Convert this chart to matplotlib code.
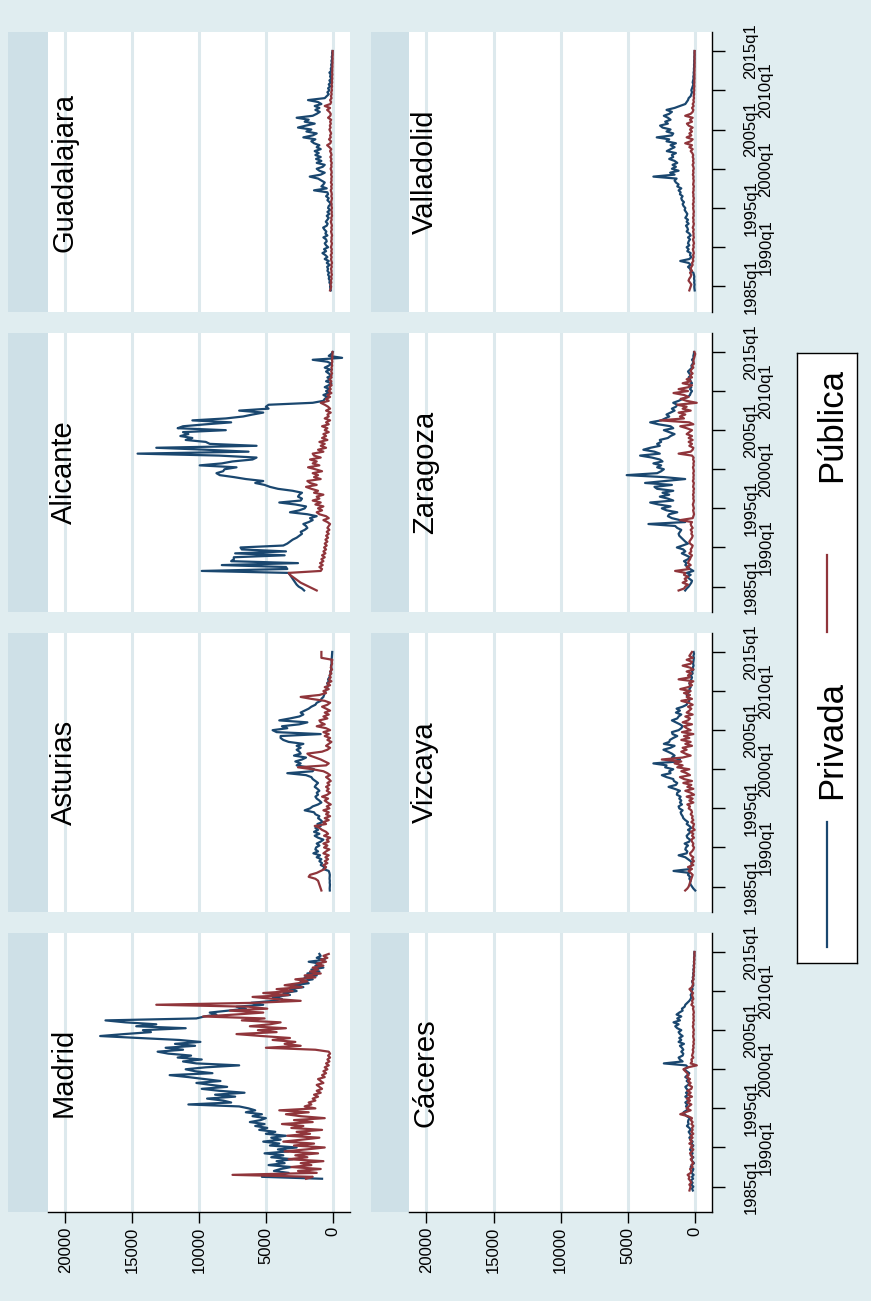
import numpy as np
import matplotlib
matplotlib.use("Agg")
import matplotlib.pyplot as plt
from matplotlib.patches import Rectangle

plt.rcParams['font.family'] = ['Liberation Sans', 'DejaVu Sans']

nan = float('nan')

# Stata quarterly dates (1960q1 = 0): 1984q3 .. 2015q1
quarters = np.arange(98, 221)
tick_major = [100, 140, 180, 220]
tick_major_lbl = ['1985q1', '1995q1', '2005q1', '2015q1']
tick_minor = [120, 160, 200]
tick_minor_lbl = ['1990q1', '2000q1', '2010q1']
value_ticks = [20000, 15000, 10000, 5000, 0]
series_names = ['Privada', 'Pública']

madrid_priv = [nan] * 6 + [
    800, 5300, 3800, 3300, 4400, 3900, 3100, 4800, 3600, 4200,
    3000, 4600, 3700, 5100, 3300, 4100, 2700, 4700, 4000, 5200,
    3900, 4600, 3500, 5000, 4300, 5500, 4900, 5800, 5100, 6200,
    5400, 5000, 6000, 5300, 6500, 5800, 6300, 7000, 10800, 7600,
    8200, 9400, 7300, 8800, 6600, 8500, 9800, 7900, 9100, 10200,
    8400, 9600, 10800, 12200, 9000, 10300, 11000, 9500, 7000, 10200,
    11200, 9800, 11600, 10600, 12300, 13100, 11200, 12500, 10300, 11800,
    9900, 11500, 14500, 17400, 15600, 13600, 14200, 11000, 14700, 13200,
    15500, 17000, 10200, 9600, 8700, 9200, 7800, 6500, 7200, 5200,
    6100, 4400, 3800, 4500, 3200, 3700, 2700, 3200, 2200, 2900,
    1800, 2400, 1500, 2100, 1200, 1900, 1000, 1600, 700, 1300,
    900, 1800, 600, 1200, 900, 1000] + [nan]
madrid_pub = [nan] * 6 + [
    2000, 1500, 7500, 1200, 2600, 900, 3100, 1600, 2400, 700,
    3300, 1900, 2800, 1100, 3600, 2000, 600, 2900, 1400, 3700,
    2300, 1000, 3400, 1700, 2700, 800, 3100, 2200, 3800, 1500,
    2900, 600, 2400, 3500, 1800, 4000, 1300, 2100, 1600, 1800,
    1300, 1500, 1100, 1400, 900, 1200, 800, 1000, 1200, 700,
    900, 1100, 600, 800, 500, 700, 400, 600, 300, 500,
    250, 400, 200, 350, 200, 300, 1300, 5000, 2400, 3600,
    2800, 4500, 3200, 5300, 7200, 4200, 5600, 3500, 6200, 4700,
    3900, 6800, 5100, 9700, 7300, 5200, 7700, 4900, 6300, 13200,
    5800, 2400, 4400, 6000, 3300, 5200, 3000, 4200, 2300, 3600,
    2600, 1900, 2800, 1300, 2100, 900, 1700, 1100, 1500, 700,
    1200, 500, 900, 400, 700, 300] + [nan]

asturias_priv = [
    220, 230, 220, 210, 230, 220, 240, 230, 220, 250,
    300, 700, 600, 900, 800, 1000, 850, 1200, 950, 1450,
    1100, 1300, 1250, 1000, 1200, 900, 700, 1100, 1350, 1000,
    1400, 1100, 1300, 900, 1150, 750, 900, 1100, 1000, 1300,
    1400, 2100, 1700, 1500, 1100, 850, 1000, 1200, 1300, 1100,
    1200, 1000, 1150, 1350, 1250, 1100, 1300, 1500, 1600, 2000,
    3400, 1500, 1400, 1900, 2700, 2400, 2800, 2300, 2000, 2900,
    2400, 2500, 2700, 2400, 2700, 2200, 3300, 3700, 3900, 3900,
    900, 4200, 4500, 3400, 3800, 2500, 1900, 4000, 3200, 2500,
    2200, 2400, 2100, 1800, 1600, 1300, 1200, 900, 850, 700,
    650, 600, 550, 450, 400, 350, 420, 300, 350, 250,
    200, 180, 150, 120, 100, 130, 90, 80, 100, 70,
    60, 50, 40]
asturias_pub = [
    850, 900, 950, 1000, 1050, 1100, 1300, 1800, 1700, 1200,
    900, 600, 500, 700, 400, 600, 350, 550, 300, 700,
    500, 250, 650, 400, 700, 300, 450, 200, 650, 350,
    500, 800, 1000, 1350, 500, 700, 300, 600, 200, 500,
    300, 700, 250, 450, 150, 400, 600, 350, 800, 400,
    200, 450, 300, 500, 250, 400, 150, 300, 500, 200,
    400, 700, 1500, 2600, 500, 300, 600, 900, 1300, 1700,
    1900, 800, 400, 200, 500, 300, 100, 400, 200, 600,
    300, 700, 200, 500, 1200, 600, 900, 1000, 400, 700,
    300, 600, 200, 500, 800, 400, 200, 600, 1600, 2400,
    1000, 500, 700, 300, 600, 200, 400, 100, 300, 150,
    250, 100, 200, 50, 150, 100, 50, 80, 30, 850,
    850, 850, 850]

alicante_priv = [
    2140, 2300, 2550, 2700, 2800, 2900, 3000, 3100, 3200, 3300,
    9800, 3400, 3500, 8300, 2600, 7600, 7400, 7400, 3600, 7300,
    3500, 6800, 6900, 3700, 3400, 3200, 3000, 2700, 2500, 2300,
    2400, 2100, 1900, 2000, 2200, 1800, 1500, 1700, 1200, 1900,
    3200, 2500, 2100, 2000, 2800, 4000, 2400, 2300, 2600, 2500,
    2300, 3000, 4100, 4700, 5100, 5800, 5200, 6500, 7400, 8450,
    8700, 8200, 8100, 7200, 9950, 8300, 7500, 6000, 5700, 8500,
    14600, 6300, 9500, 13200, 5700, 9200, 9500, 11000, 10500, 11400,
    10800, 11200, 8000, 11600, 11200, 9500, 7600, 10500, 8000, 6700,
    6000, 5200, 7000, 4800, 5000, 4800, 1500, 700, 600, 400,
    700, 300, 500, 200, 600, 300, 100, 500, 200, 400,
    100, 300, 500, 200, 600, 300, 100, 400, 1500, -700,
    300, 100, 0]
alicante_pub = [
    1200, 1500, 1800, 2100, 2400, 2600, 2800, 3000, 3200, 3300,
    900, 800, 1000, 750, 950, 700, 850, 600, 800, 550,
    700, 500, 650, 450, 600, 400, 550, 350, 500, 300,
    450, 250, 400, 300, 200, 400, 700, 300, 500, 1000,
    1200, 800, 1100, 700, 1300, 900, 1500, 1000, 1200, 700,
    1400, 1100, 1600, 2000, 1200, 1700, 1900, 900, 1400, 1100,
    1500, 800, 1300, 1850, 1000, 1500, 1200, 1700, 900, 1400,
    1500, 700, 1100, 500, 900, 600, 1000, 400, 800, 500,
    700, 300, 600, 400, 800, 300, 500, 200, 600, 300,
    400, 150, 500, 200, 350, 600, 900, 300, 500, 200,
    400, 100, 300, 150, 250, 80, 200, 100, 250, 80,
    150, 50, 120, 60, 100, 40, 80, 30, 60, 20,
    40, 10, 20]

guadalajara_priv = [
    150, 180, 200, 170, 250, 220, 300, 260, 350, 280,
    400, 350, 420, 230, 450, 300, 600, 400, 550, 770,
    500, 650, 350, 500, 600, 450, 500, 700, 400, 550,
    480, 620, 720, 450, 380, 520, 400, 300, 450, 250,
    400, 200, 350, 300, 150, 250, 400, 300, 500, 350,
    400, 1400, 450, 850, 700, 600, 850, 1100, 1720, 900,
    600, 1000, 1200, 750, 600, 1200, 850, 1250, 900, 1300,
    1050, 1350, 900, 1200, 1000, 1400, 1600, 1300, 2200, 1500,
    1200, 1970, 1600, 2600, 2000, 1350, 2100, 1800, 2700, 1500,
    1200, 970, 1300, 1000, 1350, 850, 1100, 1850, 600, 450,
    300, 400, 250, 350, 200, 300, 150, 250, 100, 200,
    150, 250, 100, 150, 80, 120, 60, 100, 40, 80,
    30, 50, 20]
guadalajara_pub = [
    200, 150, 120, 180, 100, 150, 80, 130, 60, 110,
    90, 140, 70, 120, 50, 100, 130, 80, 150, 60,
    110, 70, 140, 90, 60, 120, 80, 100, 50, 90,
    130, 70, 110, 60, 100, 150, 80, 120, 50, 90,
    70, 110, 60, 100, 80, 130, 90, 60, 110, 70,
    100, 150, 80, 120, 60, 140, 90, 110, 70, 130,
    80, 100, 160, 90, 120, 70, 150, 100, 180, 90,
    130, 200, 110, 250, 420, 180, 130, 280, 150, 200,
    120, 180, 250, 160, 220, 140, 200, 120, 350, 180,
    150, 250, 420, 200, 600, 180, 120, 200, 90, 140,
    80, 120, 60, 100, 50, 90, 40, 70, 30, 60,
    20, 50, 30, 40, 20, 30, 10, 20, 10, 15,
    10, 5, 10]

caceres_priv = [
    140, 200, 100, 250, 150, 300, 120, 200, 80, 250,
    150, 100, 300, 200, 50, 180, 250, 100, 300, 150,
    250, 350, 200, 100, 250, 150, 300, 400, 250, 350,
    450, 300, 400, 580, 450, 500, 470, 350, 600, 750,
    830, 600, 500, 650, 550, 700, 500, 450, 700, 500,
    650, 450, 600, 700, 500, 400, 600, 450, 700, 550,
    400, 600, 800, 500, 650, 2300, 900, 1100, 1200, 900,
    850, 1000, 850, 950, 1100, 800, 1200, 1000, 1150, 900,
    1100, 1200, 1000, 1300, 1450, 1200, 1580, 1100, 1300, 1000,
    1350, 1150, 900, 950, 750, 700, 550, 400, 300, 250,
    300, 200, 250, 150, 200, 100, 150, 200, 100, 150,
    80, 120, 60, 100, 50, 80, 40, 60, 30, 50,
    20, 30, 20]
caceres_pub = [
    390, 350, 300, 400, 250, 330, 450, 380, 530, 300,
    250, 350, 150, 250, 100, 200, 300, 150, 250, 350,
    200, 100, 300, 150, 400, 200, 350, 150, 300, 100,
    250, 150, 200, 100, 250, 150, 300, 200, 500, 1080,
    700, 300, 600, 450, 250, 550, 350, 600, 200, 500,
    300, 550, 250, 200, 450, 300, 500, 350, 600, 450,
    550, 700, 840, 500, -160, 300, 200, 250, 100, 200,
    150, 100, 150, 80, 120, 60, 100, 50, 90, 120,
    70, 110, 60, 100, 140, 80, 120, 60, 100, 70,
    110, 60, 90, 130, 80, 250, 150, 200, 100, 150,
    200, 120, 250, 390, 200, 150, 100, 180, 80, 120,
    60, 100, 50, 80, 40, 60, 30, 50, 20, 40,
    10, 20, 10]

vizcaya_priv = [
    -40, 100, 200, 300, 350, 300, 400, 350, 500, 400,
    1580, 300, 350, 250, 200, 300, 500, 700, 1200, 600,
    550, 700, 650, 500, 750, 400, 350, 550, 600, 450,
    300, 500, 250, 400, 600, 500, 700, 850, 900, 1000,
    1050, 900, 1150, 1200, 950, 1100, 1000, 1150, 1050, 1330,
    1300, 1100, 1500, 1950, 1400, 1300, 1550, 1600, 2100, 2450,
    1800, 1900, 1600, 2200, 2100, 3080, 1200, 1100, 1700, 1500,
    1700, 2000, 2330, 1800, 1500, 2300, 1900, 1850, 1600, 1300,
    1650, 1700, 1200, 1000, 900, 1100, 1400, 1700, 1300, 1200,
    1000, 1400, 1100, 1350, 900, 600, 550, 400, 450, 500,
    600, 500, 350, 400, 300, 350, 400, 300, 250, 200,
    300, 150, 200, 100, 150, 80, 120, 100, 80, 60,
    100, 50, 80]
vizcaya_pub = [
    710, 550, 450, 400, 350, 300, 250, 200, 150, 300,
    450, 200, 500, 100, 250, 50, 200, 100, 300, 350,
    200, 100, 50, 150, 100, 200, 250, 50, 200, 100,
    300, 0, 150, 100, 50, 250, 100, 200, 150, 300,
    200, 250, 450, 350, 550, 100, 400, 150, 600, 50,
    300, 700, 100, 550, 250, 850, 200, 800, 1100, 350,
    600, 1000, 400, 1300, 900, 1500, 1000, 2450, 900, 300,
    700, 1000, 600, 900, 200, 700, 300, 1000, 400, 800,
    100, 950, 300, 600, 800, 200, 900, 500, 350, 700,
    150, 600, 400, 250, 500, 150, 450, 1000, 200, 600,
    350, 800, 300, 1080, 500, 200, 400, 100, 1200, 350,
    500, 250, 600, 100, 350, 900, 300, 200, 600, 150,
    400, 300, 200]

zaragoza_priv = [
    710, 600, 450, 350, 250, 200, 400, 550, 300, 600,
    100, 350, 500, 700, 600, 800, 500, 350, 650, 960,
    700, 850, 1330, 900, 500, 700, 850, 1000, 1150, 1200,
    1100, 1000, 1300, 1460, 3450, 710, 1100, 1700, 2000, 1900,
    1300, 2100, 2450, 1800, 2700, 3320, 1600, 2000, 2600, 1900,
    2400, 1600, 2800, 3000, 1700, 3700, 2200, 710, 2300, 5070,
    2800, 2500, 2300, 2800, 2500, 3080, 2400, 2600, 3200, 4070,
    2600, 3000, 3830, 3300, 2600, 2800, 2500, 2600, 2000, 1800,
    1500, 1900, 2300, 1600, 1800, 2700, 3320, 2500, 2200, 1900,
    2100, 1800, 1500, 1700, 1400, 1300, 1600, 1200, 900, 500,
    350, 300, 200, 350, 250, 400, 200, 300, 350, 450,
    300, 400, 500, 350, 200, 250, 150, 100, 200, 80,
    100, 60, 50]
zaragoza_pub = [
    1200, 800, 700, 500, 900, 600, 750, 500, 800, 700,
    1460, 400, 600, 300, 500, 450, 350, 300, 200, 400,
    250, 300, 200, 150, 350, 400, 300, 200, 150, 250,
    200, 300, 150, 250, 300, 200, 1080, 150, 100, 50,
    80, 120, 60, 100, 140, 90, 60, 110, 80, 130,
    70, 100, 50, 120, 90, 60, 140, 80, 100, 70,
    110, 60, 90, 130, 70, 100, 50, 120, 80, 200,
    1200, 300, 150, 100, 400, 200, 450, 150, 450, 200,
    600, 400, 200, 600, 1080, 100, 400, 2580, 800, 1100,
    700, 1200, 300, 900, 600, 1300, -150, 600, 1050, 450,
    800, 1580, 500, 1200, 450, 200, 900, 300, 600, 200,
    350, 150, 300, 250, 100, 200, 50, 100, 80, 40,
    0, -40, 20]

valladolid_priv = [
    0, 20, 30, 10, 40, 20, 50, 30, 60, 100,
    300, 340, 500, 300, 450, 1080, 400, 250, 350, 300,
    550, 450, 600, 400, 500, 450, 350, 500, 300, 400,
    600, 500, 550, 650, 450, 600, 500, 700, 600, 550,
    650, 750, 700, 830, 900, 800, 950, 1000, 900, 1100,
    1050, 1200, 1000, 1300, 1200, 1400, 1500, 1350, 3080, 1500,
    1830, 1200, 1700, 1400, 1650, 1300, 1500, 1900, 1600, 1700,
    1400, 2080, 1800, 1500, 1800, 1400, 2100, 1900, 2830, 1700,
    1600, 2100, 1800, 2400, 2580, 2000, 2200, 1800, 2000, 2300,
    1900, 1700, 2100, 1500, 1100, 700, 600, 500, 450, 300,
    250, 200, 250, 200, 150, 100, 150, 120, 80, 100,
    60, 80, 50, 60, 40, 50, 30, 40, 20, 30,
    10, 20, 10]
valladolid_pub = [
    400, 350, 300, 250, 350, 460, 400, 300, 250, 350,
    200, 300, 250, 150, 200, 100, 150, 80, 120, 60,
    100, 140, 70, 110, 50, 90, 130, 60, 100, 80,
    120, 70, 150, 90, 60, 110, 80, 130, 70, 100,
    60, 90, 120, 80, 140, 70, 100, 60, 110, 90,
    130, 80, 100, 60, 120, 90, 70, 110, 80, 140,
    90, 120, 70, 100, 160, 80, 130, 90, 150, 110,
    180, 300, 150, 400, 200, 710, 300, 150, 600, 250,
    400, 200, 350, 150, 450, 580, 200, 350, 150, 710,
    300, 150, 100, 200, 80, 150, 60, 100, 50, 80,
    40, 60, 30, 50, 20, 40, 20, 30, 10, 20,
    10, 20, 10, 15, 5, 10, 5, 10, 5, 10,
    5, 10, 5]

# panel grid: (name, private, public) per column, top to bottom
left_col = [('Guadalajara', guadalajara_priv, guadalajara_pub),
            ('Alicante', alicante_priv, alicante_pub),
            ('Asturias', asturias_priv, asturias_pub),
            ('Madrid', madrid_priv, madrid_pub)]
right_col = [('Valladolid', valladolid_priv, valladolid_pub),
             ('Zaragoza', zaragoza_priv, zaragoza_pub),
             ('Vizcaya', vizcaya_priv, vizcaya_pub),
             ('Cáceres', caceres_priv, caceres_pub)]

NAVY = '#1a476f'
MAROON = '#90353b'
BG = '#e0edf0'
STRIP = '#cee0e7'
GRID = '#dde9ed'

W, H = 871, 1301
fig = plt.figure(figsize=(W / 100, H / 100), dpi=100)
fig.patch.set_facecolor(BG)


def px_axes(x0, y0, x1, y1):
    return fig.add_axes([x0 / W, 1 - y1 / H, (x1 - x0) / W, (y1 - y0) / H])


def px_rect(x0, y0, x1, y1, color):
    fig.add_artist(Rectangle((x0 / W, 1 - y1 / H), (x1 - x0) / W, (y1 - y0) / H,
                             transform=fig.transFigure, facecolor=color,
                             edgecolor='none', zorder=0))


row_spans = [(32, 312), (333, 612), (633, 912), (933, 1212)]
columns = [(left_col, (8, 48), (48, 350), 64, False),
           (right_col, (371, 409), (409, 712), 425, True)]

for panels, (sx0, sx1), (px0, px1), title_x, has_time_axis in columns:
    for r, (name, priv, pub) in enumerate(panels):
        y0, y1 = row_spans[r]
        px_rect(sx0, y0, sx1, y1, STRIP)
        ax = px_axes(px0, y0, px1, y1)
        ax.set_facecolor('white')
        for v in value_ticks:
            ax.axvline(v, color=GRID, lw=2.2, zorder=0)
        ax.plot(priv, quarters, color=NAVY, lw=1.6, zorder=2)
        ax.plot(pub, quarters, color=MAROON, lw=1.6, zorder=3)
        ax.set_xlim(21300, -1290)
        ax.set_ylim(87, 229.7)
        for s in ax.spines.values():
            s.set_visible(False)
        bottom_row = (r == len(panels) - 1)
        if bottom_row:
            ax.spines['bottom'].set_visible(True)
            ax.spines['bottom'].set_linewidth(1.0)
            ax.set_xticks(value_ticks)
            ax.set_xticklabels([str(v) for v in value_ticks])
            ax.tick_params(axis='x', length=8, width=1, pad=2.5,
                           labelsize=12, labelrotation=90)
        else:
            ax.set_xticks([])
        if has_time_axis:
            ax.spines['right'].set_visible(True)
            ax.spines['right'].set_linewidth(1.0)
            ax.yaxis.tick_right()
            ax.set_yticks(tick_major)
            ax.set_yticklabels(tick_major_lbl)
            ax.set_yticks(tick_minor, minor=True)
            ax.set_yticklabels(tick_minor_lbl, minor=True)
            ax.tick_params(axis='y', which='major', length=9, width=1,
                           pad=13.5, labelsize=12, labelrotation=90)
            ax.tick_params(axis='y', which='minor', length=9, width=1,
                           pad=24.5, labelsize=12, labelrotation=90)
            for lbl in ax.get_yticklabels(which='both'):
                lbl.set_va('center')
        else:
            ax.set_yticks([])
        fig.text(title_x / W, 1 - ((y0 + y1) / 2) / H, name, rotation=90,
                 ha='center', va='center', fontsize=21, zorder=5)

# legend box
lax = px_axes(797, 353, 857, 963)
lax.set_facecolor('white')
lax.set_xlim(0, 60)
lax.set_ylim(610, 0)
lax.set_xticks([])
lax.set_yticks([])
for s in lax.spines.values():
    s.set_linewidth(1.0)
    s.set_color('black')
lax.plot([30, 30], [469, 594], color=NAVY, lw=1.6)
lax.text(35, 387, series_names[0], rotation=90, ha='center', va='center', fontsize=25)
lax.plot([30, 30], [202, 279], color=MAROON, lw=1.6)
lax.text(35, 72, series_names[1], rotation=90, ha='center', va='center', fontsize=25)

fig.savefig('out.png', dpi=100, facecolor=fig.get_facecolor())
